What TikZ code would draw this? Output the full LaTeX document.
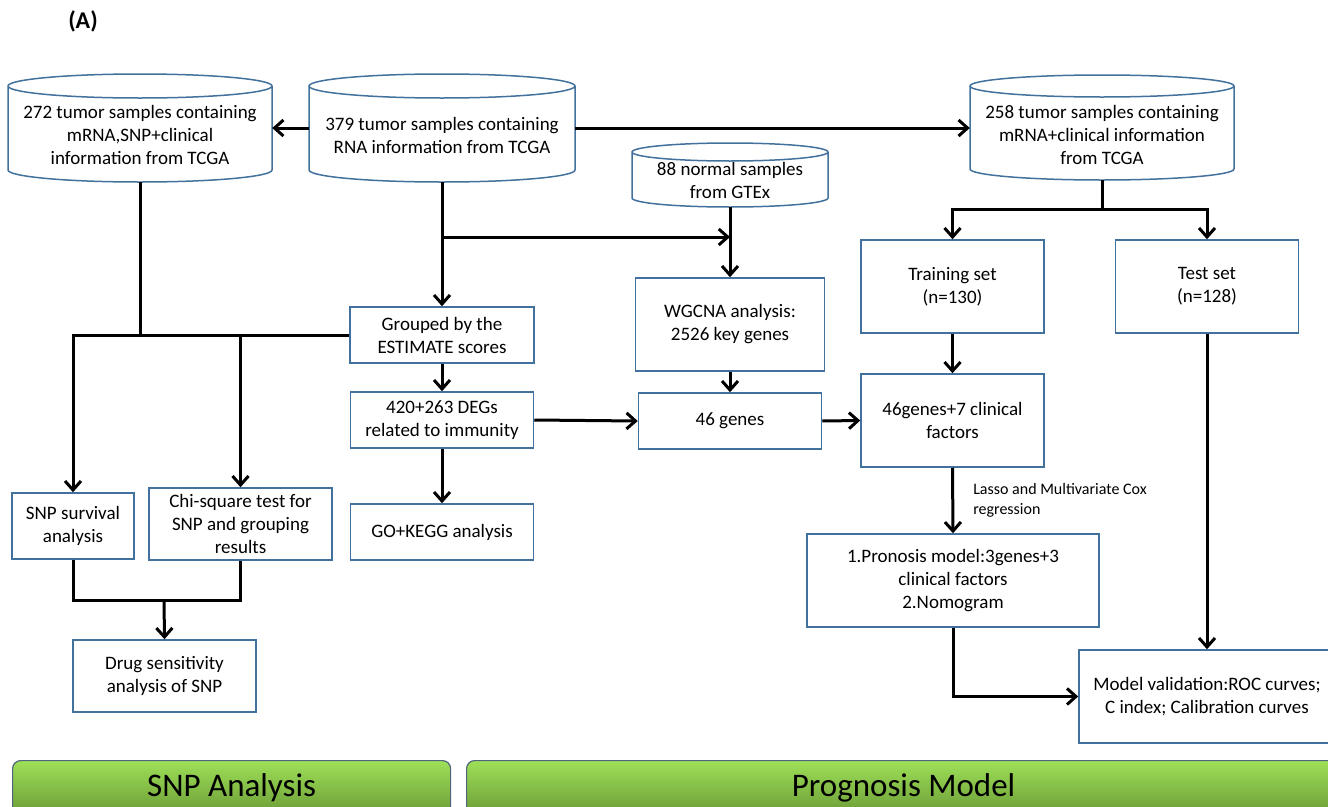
\documentclass[tikz,border=0pt]{standalone}
\usepackage{fontspec}
\setmainfont{Carlito}
\usetikzlibrary{arrows.meta,calc}
\definecolor{boxblue}{RGB}{65,113,156}
\definecolor{bantop}{RGB}{158,224,88}
\definecolor{banbot}{RGB}{108,156,54}
\definecolor{banline}{RGB}{80,100,125}
% cylinder outline round a text node: name, half width, up, down, ry
\newcommand{\dbshape}[5]{%
  \draw[boxblue,line width=1.5pt] ($(#1.center)+(-#2pt,#3pt)$) -- ($(#1.center)+(-#2pt,-#4pt)$)
    arc[start angle=180,end angle=360,x radius=#2pt,y radius=#5pt]
    -- ($(#1.center)+(#2pt,#3pt)$)
    arc[start angle=0,end angle=360,x radius=#2pt,y radius=#5pt];}

\begin{document}
\begin{tikzpicture}[x=1pt,y=-1pt,
  box/.style={draw=boxblue,line width=1.5pt,inner sep=0pt,minimum width=183pt,minimum height=56pt,align=center,font=\fontsize{19}{23}\selectfont},
  db/.style={inner sep=0pt,minimum width=264pt,align=center,font=\fontsize{19}{23}\selectfont},
  arr/.style={-{Straight Barb[length=9pt,width=16pt]},line width=3pt},
  ln/.style={line width=3pt},
  banner/.style={draw=banline,line width=1.2pt,rounded corners=8pt,top color=bantop,bottom color=banbot,minimum height=54pt,anchor=north west,font=\fontsize{33}{40}\selectfont}]
  \useasboundingbox (0,0) rectangle (1328,806);
  \clip (0,0) rectangle (1328,806);

  \node[font=\fontsize{24}{28}\selectfont\bfseries] (lbl) at (83,21) {(A)};

  % data sources
  \node[db] (db272) at (140,135) {272 tumor samples containing\\mRNA,SNP+clinical\\information from TCGA};
  \node[db,minimum width=266pt] (db379) at (442,135) {379 tumor samples containing\\RNA information from TCGA};
  \node[db] (db258) at (1102,135) {258 tumor samples containing\\mRNA+clinical information\\from TCGA};
  \node[db,minimum width=196pt] (db88) at (730,180) {88 normal samples\\from GTEx};
  \dbshape{db272}{132}{49}{35}{12}
  \dbshape{db379}{133}{49}{35}{12}
  \dbshape{db258}{132}{49}{34}{11}
  \dbshape{db88}{98}{28}{18}{9}

  % middle column
  \node[box,minimum width=184pt] (grp) at (442,335) {Grouped by the\\ESTIMATE scores};
  \node[box] (deg) at (442,420) {420+263 DEGs\\related to immunity};
  \node[box] (gok) at (442,532) {GO+KEGG analysis};
  \node[box,minimum width=189pt,minimum height=93pt] (wgc) at (730,324.5) {WGCNA analysis:\\2526 key genes};
  \node[box] (g46) at (730,421) {46 genes};

  % prognosis model
  \node[box,minimum height=93pt] (train) at (952.5,286.5) {Training set\\(n=130)};
  \node[box,minimum height=93pt] (test) at (1207,286.5) {Test set\\(n=128)};
  \node[box,minimum height=93pt] (g46c) at (952.5,420.5) {46genes+7 clinical\\factors};
  \node[box,minimum width=292pt,minimum height=93pt] (prog) at (953,580.5) {1.Pronosis model:3genes+3\\clinical factors\\2.Nomogram};
  \node[box,minimum width=256pt,minimum height=93pt] (valid) at (1207,696.5) {Model validation:ROC curves;\\C index; Calibration curves};

  % SNP analysis
  \node[box,minimum width=122pt,minimum height=66pt] (surv) at (73,526) {SNP survival\\analysis};
  \node[box,minimum height=72pt] (chi) at (240.5,524) {Chi-square test for\\SNP and grouping\\results};
  \node[box,minimum height=72pt] (drug) at (164.5,676) {Drug sensitivity\\analysis of SNP};

  \node[banner,minimum width=438pt] (snp) at (12,760) {SNP Analysis};
  \node[banner,minimum width=874pt] (pmod) at (466,760) {Prognosis Model};

  \coordinate (j1) at (140,335);
  \coordinate (j2) at (442,237);
  \coordinate (j3) at (1102,209);
  \coordinate (j4) at (164,600);

  \draw[arr] ([yshift=7pt]db379.west) -- ([yshift=7pt]db272.east);
  \draw[arr] ([yshift=7pt]db379.east) -- ([yshift=7pt]db258.west);
  \draw[arr] ([yshift=-47pt]db272.center) -- (j1) -| (surv.north);
  \draw[ln] (grp.west) -- (j1);
  \draw[arr] (chi.north |- j1) -- (chi.north);
  \draw[arr] ([yshift=-47pt]db379.center) -- (grp.north);
  \draw[arr] (j2) -- (j2 -| wgc.north);
  \draw[arr] ([yshift=-27pt]db88.center) -- (wgc.north);
  \draw[arr] (grp.south) -- (deg.north);
  \draw[arr] (deg.south) -- (gok.north);
  \draw[arr] (deg.east) -- (g46.west);
  \draw[arr] (wgc.south) -- (g46.north);
  \draw[arr] (g46.east) -- (g46c.west);
  \draw[ln] ([yshift=-45pt]db258.center) -- (j3);
  \draw[arr] (j3) -| (train.north);
  \draw[arr] (j3) -| (test.north);
  \draw[arr] (train.south) -- (g46c.north);
  \draw[arr] (g46c.south) -- node[right,xshift=19pt,inner sep=0pt,align=left,font=\fontsize{16}{20}\selectfont] (lasso) {Lasso and Multivariate Cox\\regression} (prog.north);
  \draw[arr] (test.south) -- (valid.north);
  \draw[arr] (prog.south) |- (valid.west);
  \draw[ln] (surv.south) |- (j4) -| (chi.south);
  \draw[arr] (j4) -- (drug.north);
\end{tikzpicture}
\end{document}
